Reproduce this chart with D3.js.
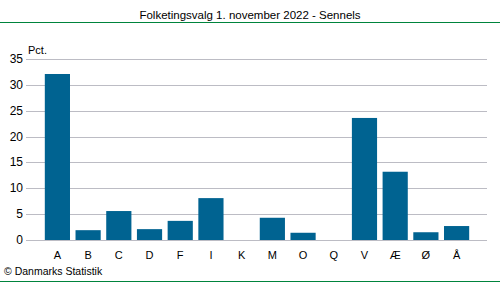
<!DOCTYPE html>
<html>
<head>
<meta charset="utf-8">
<script src="https://cdn.jsdelivr.net/npm/d3@7"></script>
<style>
body { margin: 0; background: #fff; }
text { font-family: "Liberation Sans", Arial, sans-serif; font-size: 11px; fill: #000; }
</style>
</head>
<body>
<div id="chart"></div>
<script>
var parties = ["A", "B", "C", "D", "F", "I", "K", "M", "O", "Q", "V", "Æ", "Ø", "Å"];
var pct = [32.1, 1.9, 5.6, 2.1, 3.7, 8.1, 0, 4.3, 1.4, 0, 23.6, 13.2, 1.5, 2.7];
var yTicks = [0, 5, 10, 15, 20, 25, 30, 35];

var svg = d3.select("#chart").append("svg").attr("width", 500).attr("height", 282);

var x = d3.scaleBand().domain(parties).range([27, 487]).paddingInner(0.18).paddingOuter(0.58);
var y = d3.scaleLinear().domain([0, 35]).range([240, 59]);

// title and rules
svg.append("text").attr("x", 250).attr("y", 19).attr("text-anchor", "middle").style("font-size", "11.5px")
  .text("Folketingsvalg 1. november 2022 - Sennels");
svg.append("line").attr("x1", 0).attr("x2", 500).attr("y1", 22.5).attr("y2", 22.5).attr("stroke", "#00843d").attr("stroke-width", 1);
svg.append("line").attr("x1", 0).attr("x2", 500).attr("y1", 281.5).attr("y2", 281.5).attr("stroke", "#00843d").attr("stroke-width", 1);

// gridlines
svg.selectAll(".grid").data(yTicks).enter().append("line")
  .attr("x1", 26).attr("x2", 487)
  .attr("y1", function(d){ return Math.round(y(d)) + 0.5; })
  .attr("y2", function(d){ return Math.round(y(d)) + 0.5; })
  .attr("stroke", "#bcbcc4").attr("stroke-width", 1);

// y labels
svg.selectAll(".ylab").data(yTicks).enter().append("text")
  .attr("x", 23).attr("y", function(d){ return y(d) + 4; })
  .attr("text-anchor", "end").style("font-size", "12px").text(function(d){ return d; });

svg.append("text").attr("x", 28).attr("y", 54).text("Pct.");

// bars
svg.selectAll(".bar").data(parties).enter().append("rect")
  .attr("x", function(d){ return x(d); })
  .attr("width", x.bandwidth())
  .attr("y", function(d, i){ return y(pct[i]); })
  .attr("height", function(d, i){ return y(0) - y(pct[i]); })
  .attr("fill", "#006391");

// x labels
svg.selectAll(".xlab").data(parties).enter().append("text")
  .attr("x", function(d){ return x(d) + x.bandwidth() / 2; })
  .attr("y", 259).attr("text-anchor", "middle").text(function(d){ return d; });

svg.append("text").attr("x", 4).attr("y", 275).style("font-size", "10.5px").text("© Danmarks Statistik");
</script>
</body>
</html>
